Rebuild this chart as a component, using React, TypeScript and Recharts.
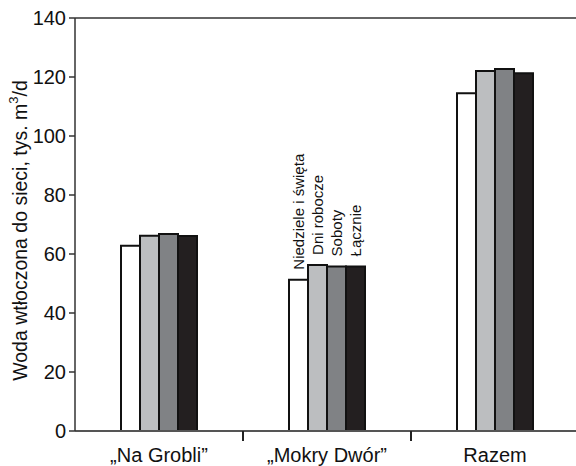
import React from "react";
import { BarChart, Bar, XAxis, YAxis, ReferenceLine, LabelList } from "recharts";

const categories = ["„Na Grobli”", "„Mokry Dwór”", "Razem"];
const seriesNames = ["Niedziele i święta", "Dni robocze", "Soboty", "Łącznie"];
const niedziele = [62.8, 51.3, 114.5];
const robocze = [66.2, 56.3, 122.0];
const soboty = [66.8, 55.8, 122.7];
const lacznie = [66.1, 55.8, 121.3];
const yTicks = [0, 20, 40, 60, 80, 100, 120, 140];
const colors = ["#ffffff", "#bcbec0", "#808285", "#231f20"];

const data = categories.map((c, i) => ({
  name: c,
  s0: niedziele[i],
  s1: robocze[i],
  s2: soboty[i],
  s3: lacznie[i],
}));

const FONT = "'Liberation Sans', Arial, sans-serif";

const makeLabel = (text: string) => (props: any) => {
  const { x, y, width, index } = props;
  if (index !== 1) return null;
  const cx = Number(x) + Number(width) / 2;
  const cy = Number(y) - 10;
  return (
    <text
      x={cx}
      y={cy}
      transform={`rotate(-90 ${cx} ${cy})`}
      textAnchor="start"
      dominantBaseline="central"
      fontSize={15}
      fontFamily={FONT}
      fill="#111"
    >
      {text}
    </text>
  );
};

const YLabel = (props: any) => {
  const vb = props.viewBox || {};
  const cx = 20;
  const cy = vb.y + vb.height / 2 + 6;
  return (
    <text
      x={cx}
      y={cy}
      transform={`rotate(-90 ${cx} ${cy})`}
      textAnchor="middle"
      dominantBaseline="central"
      fontSize={19.5}
      fontFamily={FONT}
      fill="#111"
    >
      Woda wtłoczona do sieci, tys. m
      <tspan fontSize={13} dy={-7}>3</tspan>
      <tspan dy={7}>/d</tspan>
    </text>
  );
};

const XTick = (props: any) => {
  const { x, y, payload, index } = props;
  const half = Number(payload?.offset) || 0;
  const axisY = Number(y);
  return (
    <g>
      {index > 0 && half > 0 ? (
        <line x1={x - half} x2={x - half} y1={axisY} y2={axisY + 10} stroke="#222" strokeWidth={2} />
      ) : null}
      <text
        x={x}
        y={axisY + 31}
        textAnchor="middle"
        fontSize={20}
        fontFamily={FONT}
        fill="#111"
      >
        {payload?.value}
      </text>
    </g>
  );
};

export default function App() {
  return (
    <div style={{ position: "absolute", left: 0, top: 0, width: 576, height: 466, overflow: "hidden", background: "#fff" }}>
      <BarChart
        width={576}
        height={466}
        data={data}
        margin={{ top: 18, right: -3, bottom: 5, left: 0 }}
        barGap={0}
        barCategoryGap={0}
      >
        <XAxis
          dataKey="name"
          tickLine={false}
          axisLine={{ stroke: "#555", strokeWidth: 2 }}
          tick={<XTick />}
          tickSize={0}
          tickMargin={0}
          height={30}
          interval={0}
        />
        <YAxis
          domain={[0, 140]}
          ticks={yTicks}
          width={75}
          tickSize={6}
          tickMargin={3}
          interval={0}
          axisLine={{ stroke: "#333", strokeWidth: 1.5 }}
          tickLine={{ stroke: "#333", strokeWidth: 1.5 }}
          tick={{ fontSize: 20, fontFamily: FONT, fill: "#111" }}
          label={<YLabel />}
        />
        <ReferenceLine y={140} stroke="#333" strokeWidth={1.5} ifOverflow="visible" />
        {["s0", "s1", "s2", "s3"].map((k, i) => (
          <Bar
            key={k}
            dataKey={k}
            name={seriesNames[i]}
            fill={colors[i]}
            stroke="#111"
            strokeWidth={2}
            barSize={19}
            isAnimationActive={false}
          >
            <LabelList dataKey={k} content={makeLabel(seriesNames[i])} />
          </Bar>
        ))}
      </BarChart>
    </div>
  );
}
